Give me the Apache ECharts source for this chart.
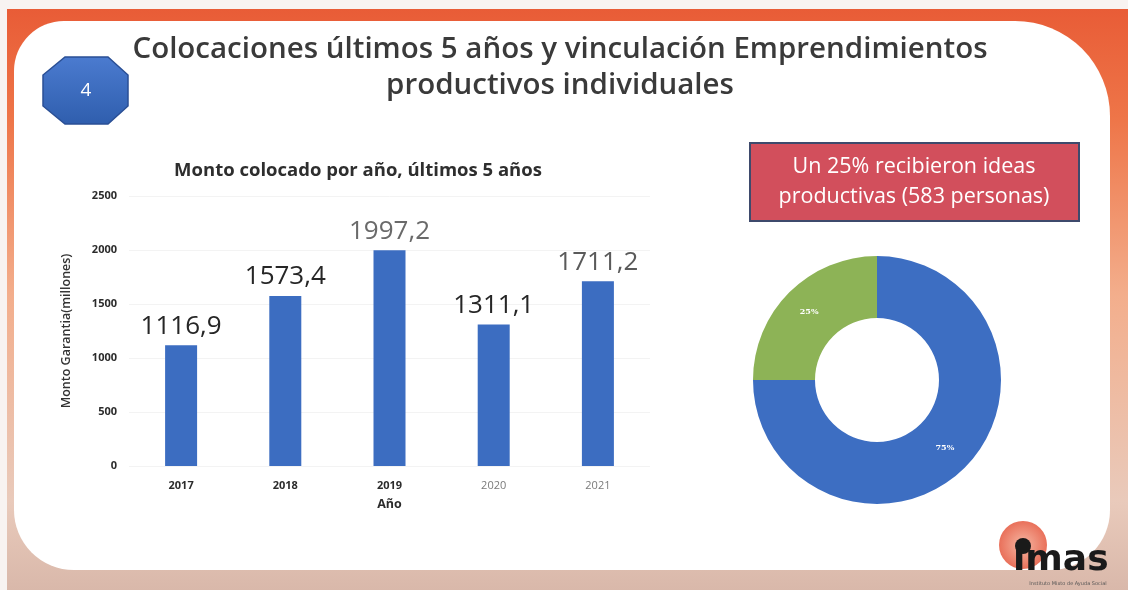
<!DOCTYPE html>
<html>
<head>
<meta charset="utf-8">
<script src="https://cdn.jsdelivr.net/npm/echarts@6/dist/echarts.min.js"></script>
<style>
  html, body { margin: 0; padding: 0; background: #ffffff; }
  #main { width: 1128px; height: 590px; }
</style>
</head>
<body>
<div id="main"></div>
<script>
// bar chart data
const years = ['2017', '2018', '2019', '2020', '2021'];
const montos = [1116.9, 1573.4, 1997.2, 1311.1, 1711.2];
const yTicks = [0, 500, 1000, 1500, 2000, 2500];

// donut data
const grupos = ['Otros', 'Recibieron ideas productivas'];
const porcentajes = [75, 25];

const chart = echarts.init(document.getElementById('main'));

// the scan shows some labels darker than others
const valueTone = ['#262626', '#262626', '#6a6a6a', '#262626', '#5a5a5a'];
const yearTone = ['#2b2b2b', '#2b2b2b', '#2b2b2b', '#7a7a7a', '#7a7a7a'];

const option = {
  animation: false,
  backgroundColor: '#ffffff',
  title: [
    {
      text: 'Colocaciones últimos 5 años y vinculación Emprendimientos\nproductivos individuales',
      left: 555, top: 27, textAlign: 'center',
      textStyle: { fontFamily: 'Open Sans', fontWeight: 600, fontSize: 29.5, lineHeight: 36, color: '#3a3a3a' }
    },
    {
      text: 'Monto colocado por año, últimos 5 años',
      left: 353, top: 156, textAlign: 'center',
      textStyle: { fontFamily: 'Open Sans', fontWeight: 'bold', fontSize: 18.5, color: '#2e2e2e' }
    }
  ],
  graphic: [
    // slide frame
    { type: 'rect', z: -10, shape: { x: 0, y: 0, width: 1128, height: 590 },
      style: { fill: new echarts.graphic.LinearGradient(0, 0, 0, 1, [
        { offset: 0, color: '#e85a35' }, { offset: 0.2, color: '#ee7548' },
        { offset: 0.5, color: '#f3ae8c' }, { offset: 0.85, color: '#e9cabb' },
        { offset: 1, color: '#d9b8aa' }]) } },
    { type: 'rect', z: -9, shape: { x: 0, y: 0, width: 1128, height: 9 }, style: { fill: '#f8f3f1' } },
    { type: 'rect', z: -9, shape: { x: 0, y: 0, width: 7, height: 590 }, style: { fill: '#f8f3f1' } },
    { type: 'rect', z: -8, shape: { x: 14, y: 21, width: 1096, height: 549, r: [50, 95, 60, 60] },
      style: { fill: '#ffffff' } },
    // numbered badge
    { type: 'polygon', z: 5,
      shape: { points: [[65, 57], [108, 57], [128, 75], [128, 106], [108, 124], [65, 124], [43, 106], [43, 75]] },
      style: { fill: new echarts.graphic.LinearGradient(0, 0, 0, 1, [
        { offset: 0, color: '#4b7bd0' }, { offset: 1, color: '#2f5ead' }]),
        stroke: '#2a4f95', lineWidth: 1.5 } },
    { type: 'text', z: 6, x: 86, y: 91,
      style: { text: '4', fill: '#ffffff', font: '19px "Open Sans"', textAlign: 'center', textVerticalAlign: 'middle' } },
    // red note box
    { type: 'rect', z: 5, shape: { x: 750, y: 143, width: 329, height: 78 },
      style: { fill: '#d24f5c', stroke: '#3e4a6c', lineWidth: 2 } },
    { type: 'text', z: 6, x: 914, y: 182,
      style: { text: 'Un 25% recibieron ideas\nproductivas (583 personas)', fill: '#ffffff',
        font: '21.5px "Open Sans"', lineHeight: 30, textAlign: 'center', textVerticalAlign: 'middle' } },
    // logo
    { type: 'circle', z: 5, shape: { cx: 1023, cy: 545, r: 24 },
      style: { fill: new echarts.graphic.RadialGradient(0.5, 0.5, 0.5, [
        { offset: 0, color: '#f6b7a3' }, { offset: 1, color: '#e9705a' }]) } },
    { type: 'circle', z: 6, shape: { cx: 1023, cy: 546, r: 8 }, style: { fill: '#1a1a1a' } },
    { type: 'text', z: 6, x: 1013, y: 579,
      style: { text: '\u0131mas', fill: '#1a1a1a', font: 'bold 36px "DejaVu Sans"', textVerticalAlign: 'bottom' } },
    { type: 'text', z: 6, x: 1068, y: 584,
      style: { text: 'Instituto Mixto de Ayuda Social', fill: '#555555', font: '5px "DejaVu Sans"',
        textAlign: 'center', textVerticalAlign: 'middle' } }
  ],
  grid: { left: 129, right: 478, top: 196, bottom: 124 },
  xAxis: {
    type: 'category',
    data: years.map((y, i) => ({
      value: y,
      textStyle: { color: yearTone[i], fontWeight: i < 3 ? 'bold' : 'normal' }
    })),
    name: 'Año',
    nameLocation: 'middle',
    nameGap: 32,
    nameTextStyle: { fontFamily: 'Open Sans', fontWeight: 'bold', fontSize: 12.5, color: '#2b2b2b' },
    axisLine: { show: false },
    axisTick: { show: false },
    axisLabel: { margin: 14, fontFamily: 'Open Sans', fontSize: 11 }
  },
  yAxis: {
    type: 'value',
    min: yTicks[0],
    max: yTicks[yTicks.length - 1],
    interval: yTicks[1] - yTicks[0],
    name: 'Monto Garantia(millones)',
    nameLocation: 'middle',
    nameGap: 56,
    nameTextStyle: { fontFamily: 'Open Sans', fontWeight: 600, fontSize: 12.5, color: '#333333' },
    axisLine: { show: false },
    axisTick: { show: false },
    splitLine: { lineStyle: { color: '#f3f3f3' } },
    axisLabel: {
      margin: 12, fontFamily: 'Open Sans', fontWeight: 'bold', fontSize: 11, color: '#2b2b2b',
      formatter: v => String(v)
    }
  },
  series: [
    {
      type: 'bar',
      barWidth: 32,
      itemStyle: { color: '#3c6dc1' },
      data: montos.map((v, i) => ({
        value: v,
        label: { color: valueTone[i] }
      })),
      label: {
        show: true,
        position: 'top',
        distance: 6,
        fontFamily: 'Open Sans',
        fontSize: 26,
        formatter: p => String(p.value).replace('.', ',')
      }
    },
    {
      type: 'pie',
      center: [877, 380],
      radius: [62, 124],
      startAngle: 90,
      clockwise: true,
      data: grupos.map((g, i) => ({ name: g, value: porcentajes[i] })),
      color: ['#3d6ec2', '#8db356'],
      label: {
        show: true,
        position: 'inside',
        formatter: '{d}%',
        fontFamily: 'DejaVu Serif',
        fontWeight: 'bold',
        fontSize: 8,
        color: '#ffffff'
      },
      labelLine: { show: false },
      itemStyle: { borderWidth: 0 }
    }
  ]
};

chart.setOption(option);
</script>
</body>
</html>
